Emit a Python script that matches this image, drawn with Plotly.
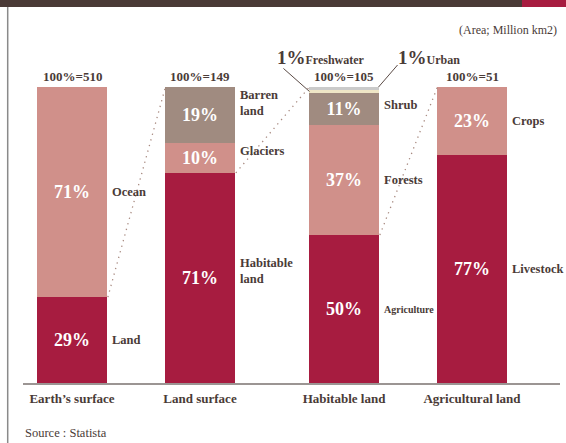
import plotly.graph_objects as go

# ---- data -------------------------------------------------------------
groups = ["Earth’s surface", "Land surface", "Habitable land", "Agricultural land"]
totals = [510, 149, 105, 51]

earth_labels = ["Land", "Ocean"]
earth_values = [29, 71]

land_labels = ["Habitable<br>land", "Glaciers", "Barren<br>land"]
land_values = [71, 10, 19]

habitable_labels = ["Agriculture", "Forests", "Shrub", "Urban", "Freshwater"]
habitable_values = [50, 37, 11, 1, 1]

agri_labels = ["Livestock", "Crops"]
agri_values = [77, 23]

# ---- styling ----------------------------------------------------------
SERIF = "Liberation Serif"
TEXT = "#4a3b37"
RED = "#a71c40"
PINK = "#d0908a"
TAUPE = "#a08b80"
GREY = "#cacaca"
CREAM = "#efe6c6"

earth_colors = [RED, PINK]
land_colors = [RED, PINK, TAUPE]
habitable_colors = [RED, PINK, TAUPE, CREAM, GREY]
agri_colors = [RED, PINK]

SLOTS = [0, 1, 2.125, 3.125]   # horizontal slot of each column
BAR_W = 0.54

stacks = [
    (earth_labels, earth_values, earth_colors),
    (land_labels, land_values, land_colors),
    (habitable_labels, habitable_values, habitable_colors),
    (agri_labels, agri_values, agri_colors),
]

label_shift = {"Barren<br>land": 12, "Glaciers": 7, "Habitable<br>land": 7, "Shrub": 4}
small_labels = {"Agriculture"}
outside_labels = {"Urban", "Freshwater"}

# page geometry (pixels); the 100% level sits at y=87 px, the baseline at 383 px
L, R, T, B, W, H = 23, 6, 40, 60, 566, 443
PW, PH = W - L - R, H - T - B
TOP_100 = 87
X_UNIT = 128.0
Y_UNIT = (H - B - TOP_100) / 100.0
Y_MAX = PH / Y_UNIT

fig = go.Figure()
annotations = []

for slot, (labels, values, colors) in zip(SLOTS, stacks):
    base = 0
    for lab, val, col in zip(labels, values, colors):
        fig.add_bar(
            x=[slot], y=[val], width=BAR_W,
            marker=dict(color=col, line=dict(width=0)),
            text=[f"{val}%" if val >= 5 else ""],
            textposition="inside", insidetextanchor="middle",
            textfont=dict(family=SERIF, size=18, color="white", weight="bold"),
            hoverinfo="skip", showlegend=False,
        )
        if lab not in outside_labels:
            annotations.append(dict(
                x=slot + BAR_W / 2, y=base + val / 2, xref="x", yref="y",
                text=lab, showarrow=False, xanchor="left", yanchor="middle",
                align="left", xshift=3, yshift=label_shift.get(lab, 0),
                font=dict(family=SERIF, size=10 if lab in small_labels else 12.5,
                          color=TEXT, weight="bold"),
            ))
        base += val

# column totals
for slot, tot in zip(SLOTS, totals):
    annotations.append(dict(
        x=slot, y=100, xref="x", yref="y", text=f"100%={tot}",
        showarrow=False, yanchor="middle", yshift=11,
        font=dict(family=SERIF, size=13, color=TEXT, weight="bold"),
    ))

# the two 1% slices at the top of the habitable-land column
h_slot = SLOTS[2]
h_left = h_slot - BAR_W / 2
h_right = h_slot + BAR_W / 2
urban_mid = sum(habitable_values[:3]) + habitable_values[3] / 2

annotations.append(dict(
    x=h_left, y=100, xref="x", yref="y",
    text=f"<span style='font-size:19px'>{habitable_values[4]}%</span>{habitable_labels[4]}",
    showarrow=False, xanchor="left", yanchor="middle", xshift=-34, yshift=30,
    font=dict(family=SERIF, size=12, color=TEXT, weight="bold"),
))
annotations.append(dict(
    x=h_right, y=100, xref="x", yref="y",
    text=f"<span style='font-size:19px'>{habitable_values[3]}%</span>{habitable_labels[3]}",
    showarrow=False, xanchor="left", yanchor="middle", xshift=17, yshift=30,
    font=dict(family=SERIF, size=12, color=TEXT, weight="bold"),
))

shapes = []
# leader lines for the 1% slices
shapes.append(dict(type="line", xref="x", yref="y",
                   x0=h_left, y0=urban_mid,
                   x1=h_left - 26 / X_UNIT, y1=urban_mid + 23 / Y_UNIT,
                   line=dict(color="#5a4a45", width=1), layer="above"))
shapes.append(dict(type="line", xref="x", yref="y",
                   x0=h_right, y0=100,
                   x1=h_right + 19 / X_UNIT, y1=100 + 22 / Y_UNIT,
                   line=dict(color="#5a4a45", width=1), layer="above"))

# dotted connectors: the bottom slice of one column opens into the next column
for i in range(len(stacks) - 1):
    shapes.append(dict(
        type="line", xref="x", yref="y",
        x0=SLOTS[i] + BAR_W / 2 + 0.01, y0=stacks[i][1][0],
        x1=SLOTS[i + 1] - BAR_W / 2, y1=100,
        line=dict(color="#a88a80", width=1.3, dash="1.3px,4.5px"),
    ))


def px(xp):
    return (xp - L) / PW


def py(yp):
    return (H - B - yp) / PH


# page frame: header band, accent block and left rule
shapes += [
    dict(type="rect", xref="paper", yref="paper", x0=px(0), x1=px(W), y0=py(7), y1=py(0),
         fillcolor="#4a3a36", line=dict(width=0), layer="above"),
    dict(type="rect", xref="paper", yref="paper", x0=px(522), x1=px(W), y0=py(7), y1=py(0),
         fillcolor=RED, line=dict(width=0), layer="above"),
    dict(type="line", xref="paper", yref="paper", x0=px(7.7), x1=px(7.7), y0=py(7), y1=py(H),
         line=dict(color="#8a8a8a", width=1.5)),
]

annotations += [
    dict(xref="paper", yref="paper", x=px(559), y=py(30), text="(Area; Million km2)",
         showarrow=False, xanchor="right", yanchor="middle",
         font=dict(family=SERIF, size=12, color=TEXT)),
    dict(xref="paper", yref="paper", x=px(23), y=py(433), text="Source : Statista",
         showarrow=False, xanchor="left", yanchor="middle",
         font=dict(family=SERIF, size=12.5, color=TEXT)),
]

fig.update_layout(
    width=W, height=H,
    margin=dict(l=L, r=R, t=T, b=B),
    barmode="stack",
    plot_bgcolor="white", paper_bgcolor="white",
    xaxis=dict(range=[-49 / X_UNIT, (560 - 72) / X_UNIT], tickvals=SLOTS, ticktext=groups,
               showline=True, linecolor="#9b9593", linewidth=1.5,
               ticks="outside", ticklen=3, tickcolor="rgba(0,0,0,0)",
               tickfont=dict(family=SERIF, size=13, color=TEXT, weight="bold"),
               showgrid=False, zeroline=False, fixedrange=True),
    yaxis=dict(range=[0, Y_MAX], visible=False, fixedrange=True),
    annotations=annotations,
    shapes=shapes,
    uniformtext=dict(minsize=8),
)

fig.write_html("out.html")
